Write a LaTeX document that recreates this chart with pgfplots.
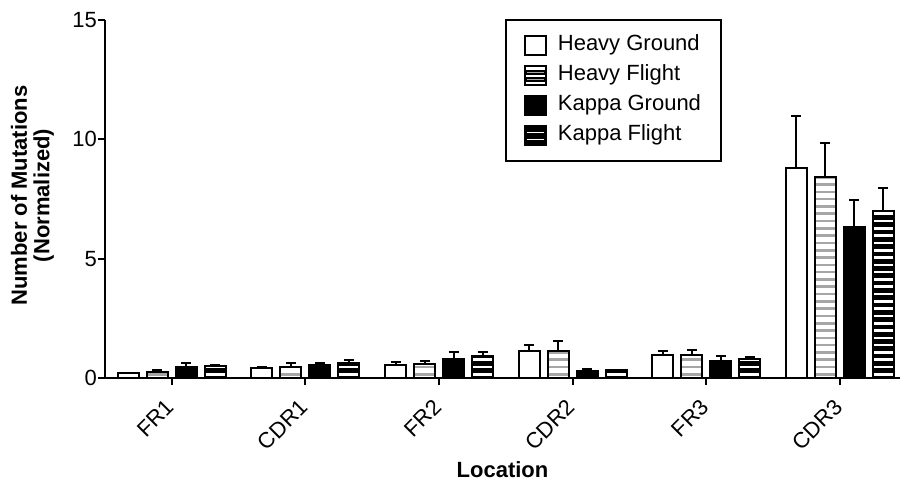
\documentclass[border=0pt]{standalone}
\usepackage{pgfplots}
\pgfplotsset{compat=1.18}
\usepackage{pgfplotstable}
\usepackage{fontspec}
\setmainfont{Liberation Sans}

\pgfplotstableread{
x hg hge hf hfe kg kge kf kfe
0 0.19 0.02 0.26 0.09 0.47 0.17 0.50 0.05
1 0.43 0.03 0.47 0.17 0.55 0.09 0.61 0.14
2 0.55 0.10 0.59 0.11 0.80 0.30 0.93 0.14
3 1.14 0.25 1.14 0.39 0.28 0.10 0.32 0.03
4 0.95 0.19 0.96 0.21 0.70 0.23 0.78 0.08
5 8.80 2.16 8.42 1.43 6.33 1.13 7.00 0.96
}\data

\begin{document}
\begin{tikzpicture}
\useasboundingbox (-105pt,-107pt) rectangle (796pt,378pt);
\begin{axis}[
  at={(0,0)}, anchor=south west,
  scale only axis, width=795pt, height=358pt,
  xmin=-0.5, xmax=5.45, ymin=0, ymax=15,
  axis lines*=left,
  axis line style={line width=2.5pt, black},
  ytick={0,5,10,15},
  xtick={0,1,2,3,4,5},
  xticklabels={FR1,CDR1,FR2,CDR2,FR3,CDR3},
  tick align=outside, major tick length=7pt,
  tick style={line width=2pt, black},
  ticklabel style={font=\fontsize{22}{24}\selectfont},
  /pgf/number format/assume math mode=true,
  yticklabel style={inner xsep=1pt},
  xticklabel style={rotate=45, anchor=north east, inner sep=0pt, xshift=-14pt, yshift=-4pt},
  ylabel={Number of Mutations\\(Normalized)},
  ylabel style={align=center, font=\bfseries\fontsize{22}{22.5}\selectfont, at={(axis description cs:-0.0912,0.51)}, anchor=center},
  xlabel={Location},
  xlabel style={font=\bfseries\fontsize{22}{24}\selectfont, at={(axis description cs:0.5,-0.257)}, anchor=center},
  legend style={at={(rel axis cs:0.503,1.003)}, anchor=north west, draw=black, line width=2pt,
    font=\fontsize{22}{24}\selectfont, inner xsep=18pt, inner ysep=13pt, row sep=5pt,
    nodes={text height=16pt, text depth=5pt}},
  legend cell align=left,
  /tikz/every odd column/.append style={column sep=9pt},
  error bars/error bar style={line width=2pt, black},
  error bars/error mark options={rotate=90, mark size=5pt, line width=2pt, black},
  bars/.style={ybar, bar width=21pt, bar shift=0pt, xshift=#1, draw=black, line width=2pt,
    error bars/y dir=plus, error bars/y explicit},
  stripes/.style={ycomb, mark=none, line width=19pt, xshift=#1,
    dash pattern=on 2.6pt off 4.7pt, dash phase=4.9pt, forget plot},
  outline/.style={ybar, bar width=21pt, bar shift=0pt, xshift=#1, draw=black, fill=none, line width=2pt, forget plot},
  legHG/.style={legend image code/.code={\begin{scope}[xshift=43.5pt]
      \draw[fill=white, line width=2pt] (0pt,-9.5pt) rectangle (21pt,9.5pt);\end{scope}}},
  legKG/.style={legend image code/.code={\begin{scope}[xshift=-14.5pt]
      \draw[fill=black, line width=2pt] (0pt,-9.5pt) rectangle (21pt,9.5pt);\end{scope}}},
  legHF/.style={legend image code/.code={\begin{scope}[xshift=14.5pt]
      \path[fill=white] (0pt,-9.5pt) rectangle (21pt,9.5pt);
      \path[fill=black!35] (1pt,-5.6pt) rectangle (20pt,-3pt);
      \path[fill=black!35] (1pt,1.7pt) rectangle (20pt,4.3pt);
      \draw[fill=none, draw=black, line width=2pt] (0pt,-9.5pt) rectangle (21pt,9.5pt);\end{scope}}},
  legKF/.style={legend image code/.code={\begin{scope}[xshift=-43.5pt]
      \path[fill=black] (0pt,-9.5pt) rectangle (21pt,9.5pt);
      \path[fill=white] (1pt,-5.6pt) rectangle (20pt,-3pt);
      \path[fill=white] (1pt,1.7pt) rectangle (20pt,4.3pt);
      \draw[fill=none, draw=black, line width=2pt] (0pt,-9.5pt) rectangle (21pt,9.5pt);\end{scope}}},
]
\addplot[bars=-43.5pt, fill=white, legHG] table[x=x, y=hg, y error=hge]{\data};
\addlegendentry{Heavy Ground}
\addplot[bars=-14.5pt, fill=white, legHF] table[x=x, y=hf, y error=hfe]{\data};
\addlegendentry{Heavy Flight}
\addplot[stripes=-14.5pt, black!35] table[x=x, y=hf]{\data};
\addplot[outline=-14.5pt] table[x=x, y=hf]{\data};
\addplot[bars=14.5pt, fill=black, legKG] table[x=x, y=kg, y error=kge]{\data};
\addlegendentry{Kappa Ground}
\addplot[bars=43.5pt, fill=black, legKF] table[x=x, y=kf, y error=kfe]{\data};
\addlegendentry{Kappa Flight}
\addplot[stripes=43.5pt, white] table[x=x, y=kf]{\data};
\addplot[outline=43.5pt] table[x=x, y=kf]{\data};
\end{axis}
\end{tikzpicture}
\end{document}
